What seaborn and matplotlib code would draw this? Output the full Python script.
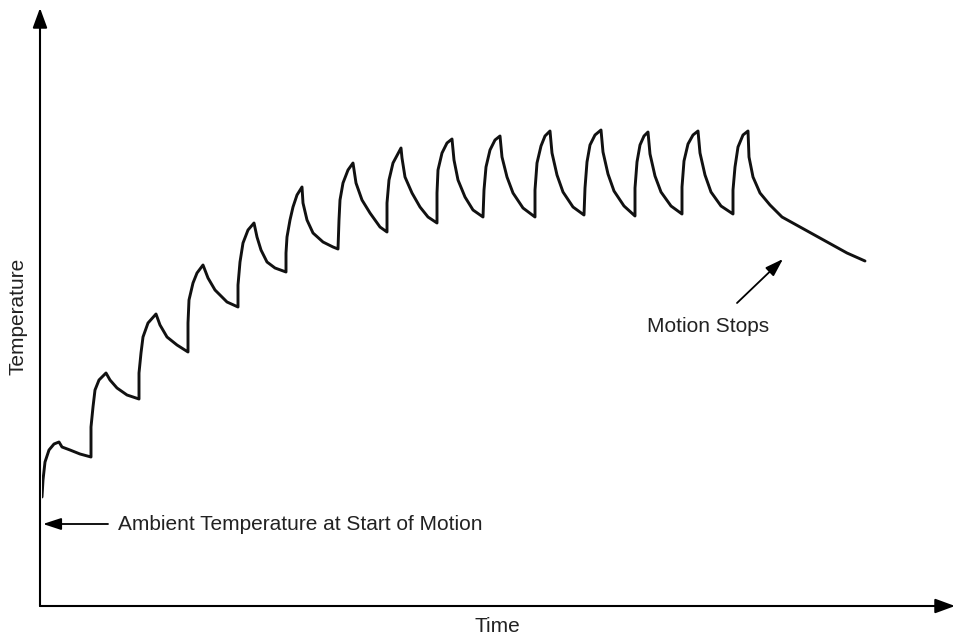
import matplotlib
matplotlib.use("Agg")
import matplotlib.pyplot as plt
import seaborn as sns
import pandas as pd

# temperature trace (time and temperature in arbitrary units)
time_units = [
    0, 1, 3, 7, 12, 17, 20, 28, 38, 49,
    49, 51, 53, 57, 64, 68, 75, 85, 97,
    97, 99, 101, 106, 114, 118, 125, 135, 146,
    146, 147, 151, 155, 161, 166, 173, 185, 196,
    196, 198, 201, 206, 212, 215, 219, 225, 233, 244,
    244, 245, 248, 251, 255, 260, 261, 265, 271, 281, 291, 296,
    297, 298, 301, 306, 311, 314, 320, 328, 338, 345,
    345, 347, 351, 359, 360, 363, 370, 378, 386, 395,
    395, 396, 400, 405, 410, 412, 416, 423, 431, 441,
    442, 444, 448, 453, 458, 460, 465, 471, 481, 493,
    493, 495, 499, 503, 508, 510, 515, 521, 531, 542,
    543, 545, 548, 553, 559, 561, 566, 572, 582, 593,
    593, 595, 598, 602, 606, 608, 613, 619, 629, 640,
    640, 642, 646, 651, 656, 658, 663, 669, 679, 691,
    691, 693, 696, 701, 706, 707, 711, 718, 728, 740, 758, 785, 805, 823,
]
temperature = [
    109, 126, 144, 156, 162, 164, 159, 156, 152, 149,
    179, 199, 216, 226, 233, 226, 218, 211, 207,
    233, 253, 269, 283, 292, 281, 269, 261, 254,
    283, 306, 323, 333, 341, 328, 316, 304, 299,
    321, 344, 363, 376, 383, 369, 356, 344, 338, 334,
    353, 369, 386, 399, 411, 419, 403, 386, 373, 364, 359, 357,
    386, 406, 423, 436, 443, 423, 406, 393, 379, 374,
    403, 426, 443, 458, 448, 429, 413, 399, 389, 383,
    413, 436, 453, 463, 467, 446, 426, 409, 396, 389,
    416, 439, 456, 466, 470, 449, 429, 413, 398, 389,
    416, 443, 460, 470, 475, 453, 431, 414, 399, 391,
    418, 444, 461, 471, 476, 454, 432, 415, 400, 390,
    418, 444, 461, 470, 474, 452, 430, 414, 400, 392,
    419, 445, 462, 471, 475, 453, 431, 414, 400, 392,
    416, 439, 459, 471, 475, 449, 429, 413, 401, 389, 379, 364, 353, 345,
]

ambient_temp = 82
ambient_label = "Ambient Temperature at Start of Motion"
stop_label = "Motion Stops"
x_label = "Time"
y_label = "Temperature"

df = pd.DataFrame({"time": time_units, "temp": temperature})

sns.set_style("white")
plt.rcParams["font.family"] = ["Liberation Sans", "DejaVu Sans"]

fig = plt.figure(figsize=(9.57, 6.39), dpi=100)
ax = fig.add_axes([42 / 957, 33 / 639, 915 / 957, 598 / 639])

sns.lineplot(data=df, x="time", y="temp", sort=False, estimator=None,
             color="#111111", linewidth=2.1, ax=ax)
for ln in ax.lines:
    ln.set_solid_joinstyle("round")
    ln.set_solid_capstyle("round")

ax.set_xlim(0, 915)
ax.set_ylim(0, 598)
for s in ax.spines.values():
    s.set_visible(False)
ax.set_xticks([])
ax.set_yticks([])
ax.set_xlabel("")
ax.set_ylabel("")

# axes drawn as arrows
head = dict(arrowstyle="-|>,head_length=0.6,head_width=0.22", mutation_scale=20,
            color="black", lw=1.5, shrinkA=0, shrinkB=0)
ax.annotate("", xy=(-2, 598), xytext=(-2, 0), arrowprops=head, annotation_clip=False)
ax.annotate("", xy=(913, 0), xytext=(-2, 0), arrowprops=head, annotation_clip=False)

small = dict(arrowstyle="-|>,head_length=0.55,head_width=0.18", mutation_scale=20,
             color="black", lw=1.3, shrinkA=0, shrinkB=0)
ax.annotate("", xy=(1, ambient_temp), xytext=(66, ambient_temp), arrowprops=small,
            annotation_clip=False)
ax.text(76, ambient_temp, ambient_label, fontsize=15, va="center", ha="left",
        color="#222222")

ax.annotate("", xy=(741, 347), xytext=(695, 303), arrowprops=small,
            annotation_clip=False)
ax.text(666, 280, stop_label, fontsize=15, va="center", ha="center", color="#222222")

ax.text(455, -21, x_label, fontsize=15, va="center", ha="center", color="#222222",
        clip_on=False)
ax.text(-24, 290, y_label, fontsize=15, va="center", ha="center", rotation=90,
        color="#222222", clip_on=False)

fig.savefig("out.png", dpi=100)
